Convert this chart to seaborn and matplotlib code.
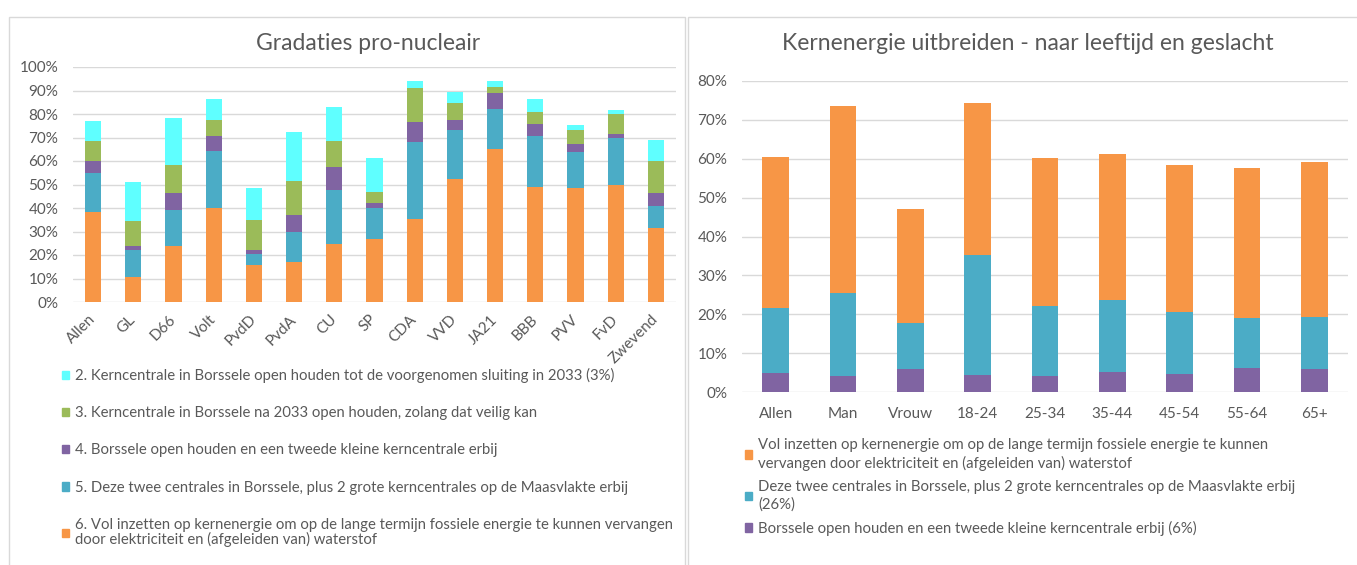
import numpy as np
import pandas as pd
import seaborn as sns
import matplotlib.pyplot as plt
from matplotlib.patches import Patch, Rectangle
from matplotlib.ticker import PercentFormatter

# ---------------------
#   data (percentages)
# ---------------------
partijen = ["Allen", "GL", "D66", "Volt", "PvdD", "PvdA", "CU", "SP", "CDA",
            "VVD", "JA21", "BBB", "PVV", "FvD", "Zwevend"]
# segments, bottom -> top
p6_vol = [38.1, 10.7, 23.8, 40.0, 15.6, 16.9, 24.5, 26.6, 35.4, 52.3, 65.0, 49.1, 48.4, 49.9, 31.7]
p5_maasvlakte = [16.7, 11.6, 15.3, 24.2, 4.7, 13.0, 23.0, 13.4, 32.6, 21.0, 17.2, 21.7, 15.5, 20.1, 9.3]
p4_tweede = [5.2, 1.6, 7.4, 6.5, 2.0, 7.2, 9.8, 2.1, 8.7, 4.2, 6.6, 4.9, 3.5, 1.7, 5.4]
p3_na2033 = [8.3, 10.5, 11.7, 6.7, 12.7, 14.3, 11.1, 4.6, 14.2, 7.1, 2.8, 5.0, 5.6, 8.2, 13.6]
p2_tot2033 = [8.8, 16.8, 20.3, 8.8, 13.4, 20.9, 14.5, 14.6, 3.0, 4.6, 2.3, 5.8, 2.5, 1.6, 8.8]

groepen = ["Allen", "Man", "Vrouw", "18-24", "25-34", "35-44", "45-54", "55-64", "65+"]
g_tweede = [5.0, 4.0, 6.0, 4.5, 4.1, 5.1, 4.6, 6.1, 5.9]
g_maasvlakte = [16.6, 21.5, 11.8, 30.7, 18.0, 18.6, 15.9, 12.9, 13.3]
g_vol = [38.8, 48.0, 29.3, 39.1, 38.2, 37.5, 37.9, 38.7, 40.0]

left_labels = [
    "2. Kerncentrale in Borssele open houden tot de voorgenomen sluiting in 2033 (3%)",
    "3. Kerncentrale in Borssele na 2033 open houden, zolang dat veilig kan",
    "4. Borssele open houden en een tweede kleine kerncentrale erbij",
    "5. Deze twee centrales in Borssele, plus 2 grote kerncentrales op de Maasvlakte erbij",
    "6. Vol inzetten op kernenergie om op de lange termijn fossiele energie te kunnen vervangen\n"
    "door elektriciteit en (afgeleiden van) waterstof",
]
right_labels = [
    "Vol inzetten op kernenergie om op de lange termijn fossiele energie te kunnen\n"
    "vervangen door elektriciteit en (afgeleiden van) waterstof",
    "Deze twee centrales in Borssele, plus 2 grote kerncentrales op de Maasvlakte erbij\n(26%)",
    "Borssele open houden en een tweede kleine kerncentrale erbij (6%)",
]

ORANGE, TEAL, PURPLE, GREEN, CYAN = "#F79646", "#4BACC6", "#8064A2", "#9BBB59", "#5FFFFF"
GREY = "#595959"
GRID = "#D9D9D9"

sns.set_style("white")
plt.rcParams["font.family"] = ["Lato", "DejaVu Sans"]

W, H = 1357, 565
fig = plt.figure(figsize=(W / 100, H / 100), dpi=100)


def box(x0, y0, x1, y1):
    # pixel box (from top-left) -> figure fraction rect
    return [x0 / W, 1 - y1 / H, (x1 - x0) / W, (y1 - y0) / H]


def stacked(ax, cats, layers, colors):
    df = pd.DataFrame(np.array(layers).T, index=cats).cumsum(axis=1)
    # tallest (top) layer first, lower layers painted over it
    for i in reversed(range(len(layers))):
        d = pd.DataFrame({"cat": cats, "val": df[i].values})
        sns.barplot(data=d, x="cat", y="val", color=colors[i], width=0.4,
                    saturation=1, edgecolor="none", ax=ax)
    ax.set_xlim(-0.5, len(cats) - 0.5)
    ax.set_xlabel("")
    ax.set_ylabel("")
    ax.yaxis.set_major_formatter(PercentFormatter(decimals=0))
    ax.grid(axis="y", color=GRID, lw=1)
    ax.set_axisbelow(True)
    sns.despine(ax=ax, left=True, bottom=True)
    ax.tick_params(length=0, colors=GREY, labelsize=11)


# panel borders
for x0, x1 in [(9, 685), (688, 1400)]:
    fig.add_artist(Rectangle((x0 / W, -0.1), (x1 - x0) / W, 1.1 - 17 / H,
                             transform=fig.transFigure, fill=False,
                             ec=GRID, lw=1))

# left chart
ax1 = fig.add_axes(box(73, 67, 676, 302))
stacked(ax1, partijen, [p6_vol, p5_maasvlakte, p4_tweede, p3_na2033, p2_tot2033],
        [ORANGE, TEAL, PURPLE, GREEN, CYAN])
ax1.set_ylim(0, 100)
ax1.set_yticks(np.arange(0, 101, 10))
ax1.tick_params(axis="y", pad=10.5)
ax1.tick_params(axis="x", pad=11)
for lab in ax1.get_xticklabels():
    lab.set_rotation(45)
    lab.set_ha("right")
    lab.set_va("center")
    lab.set_rotation_mode("anchor")

# right chart
ax2 = fig.add_axes(box(742, 81, 1348, 392))
stacked(ax2, groepen, [g_tweede, g_maasvlakte, g_vol], [PURPLE, TEAL, ORANGE])
ax2.set_ylim(0, 80)
ax2.set_yticks(np.arange(0, 81, 10))
ax2.tick_params(axis="y", pad=10.5)
ax2.tick_params(axis="x", pad=11)

# titles
fig.text(368 / W, 1 - 44 / H, "Gradaties pro-nucleair", ha="center", va="center",
         fontsize=16.5, color=GREY)
fig.text(1028 / W, 1 - 44 / H, "Kernenergie uitbreiden - naar leeftijd en geslacht",
         ha="center", va="center", fontsize=16.5, color=GREY)

# legends
h_left = [Patch(color=c) for c in [CYAN, GREEN, PURPLE, TEAL, ORANGE]]
leg1 = fig.legend(h_left, left_labels, loc="upper left",
                  bbox_to_anchor=(62 / W, 1 - 368 / H), frameon=False,
                  fontsize=10.7, labelcolor=GREY, handlelength=0.5, handleheight=0.5,
                  handletextpad=0.4, labelspacing=1.56, borderpad=0, borderaxespad=0)
for t in leg1.get_texts():
    t.set_linespacing(1.05)

h_right = [Patch(color=c) for c in [ORANGE, TEAL, PURPLE]]
leg2 = fig.legend(h_right, right_labels, loc="upper left",
                  bbox_to_anchor=(745 / W, 1 - 438 / H), frameon=False,
                  fontsize=10.7, labelcolor=GREY, handlelength=0.5, handleheight=0.5,
                  handletextpad=0.4, labelspacing=0.62, borderpad=0, borderaxespad=0)
for t in leg2.get_texts():
    t.set_linespacing(1.3)

fig.savefig("out.png", dpi=100)
